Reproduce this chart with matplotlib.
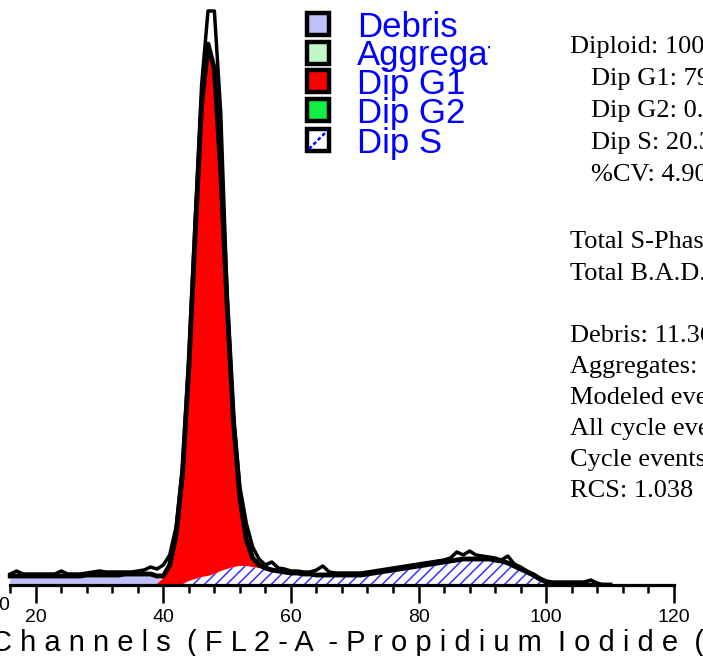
import matplotlib
matplotlib.use('Agg')
import matplotlib.pyplot as plt
from matplotlib.patches import Rectangle
import numpy as np

# ---------------- data ----------------
channels = list(range(16, 111))

data_counts = [11, 14, 11, 11, 11, 11, 11, 11, 14, 11,
               11, 11, 12, 13, 14, 13, 13, 13, 13, 13,
               14, 15, 18, 16, 20, 30, 58, 118, 228, 365,
               500, 574, 574, 472, 290, 168, 98, 62, 38, 26,
               20, 23, 17, 16, 14, 14, 13, 13, 15, 19,
               13, 12, 12, 12, 12, 12, 13, 14, 15, 16,
               17, 18, 19, 20, 21, 22, 23, 24, 25, 27,
               33, 30, 34, 30, 29, 28, 27, 25, 29, 21,
               18, 14, 11, 7, 4, 3, 3, 3, 3, 3,
               3, 5, 2, 0, 0]

debris = [9, 9, 9, 9, 9, 9, 9, 9, 9, 9,
          9, 9, 10, 10, 10, 10, 10, 10, 11, 11,
          11, 11, 11, 8, 2, 0, 0, 0, 0, 0,
          0, 0, 0, 0, 0, 0, 0, 0, 0, 0,
          0, 0, 0, 0, 0, 0, 0, 0, 0, 0,
          0, 0, 0, 0, 0, 0, 0, 0, 0, 0,
          0, 0, 0, 0, 0, 0, 0, 0, 0, 0,
          0, 0, 0, 0, 0, 0, 0, 0, 0, 0,
          0, 0, 0, 0, 0, 0, 0, 0, 0, 0,
          0, 0, 0, 0, 0]

dip_s = [0, 0, 0, 0, 0, 0, 0, 0, 0, 0,
         0, 0, 0, 0, 0, 0, 0, 0, 0, 0,
         0, 0, 0, 0, 0, 0, 0, 1, 4, 6,
         8, 9, 11, 14, 16, 18, 19, 19, 18, 17,
         16, 15, 14, 13, 12, 12, 11, 11, 10, 10,
         10, 10, 10, 10, 10, 10, 11, 12, 13, 14,
         15, 16, 17, 18, 19, 20, 21, 22, 23, 24,
         25, 26, 26, 26, 26, 26, 25, 24, 22, 19,
         16, 13, 10, 6, 3, 1, 0, 0, 0, 0,
         0, 0, 0, 0, 0]

dip_g1 = [0, 0, 0, 0, 0, 0, 0, 0, 0, 0,
          0, 0, 0, 0, 0, 0, 0, 0, 0, 0,
          0, 0, 0, 1, 7, 20, 50, 110, 214, 346,
          472, 532, 505, 400, 264, 146, 68, 27, 9, 3,
          1, 0, 0, 0, 0, 0, 0, 0, 0, 0,
          0, 0, 0, 0, 0, 0, 0, 0, 0, 0,
          0, 0, 0, 0, 0, 0, 0, 0, 0, 0,
          0, 0, 0, 0, 0, 0, 0, 0, 0, 0,
          0, 0, 0, 0, 0, 0, 0, 0, 0, 0,
          0, 0, 0, 0, 0]

xtick_major = [20, 40, 60, 80, 100, 120]
xtick_minor = [16, 24, 28, 32, 36, 44, 48, 52, 56, 64, 68, 72, 76,
               84, 88, 92, 96, 104, 108, 112, 116]
x_label = "C h a n n e l s  ( F L 2 - A  - P r o p i d i u m  I o d i d e  ("

legend_labels = ["Debris", "Aggregates", "Dip G1", "Dip G2", "Dip S"]
legend_colors = ["#c0c0f8", "#c0f8c8", "#ff0000", "#10f040", "#ffffff"]

stats_text = ["Diploid: 100.00 %", "Dip G1: 79.67 %", "Dip G2: 0.00 %",
              "Dip S: 20.33 %", "%CV: 4.90", "Total S-Phase: 20.33 %",
              "Total B.A.D.: 0.00 %", "Debris: 11.36 %", "Aggregates: 0.00 %",
              "Modeled events: 9814", "All cycle events: 8699",
              "Cycle events per channel: 170", "RCS: 1.038"]
stats_indent = [False, True, True, True, True, False, False,
                False, False, False, False, False, False]
stats_baseline = [53, 85, 117, 149, 181, 248, 280, 342, 373, 404, 435, 466, 497]

# ---------------- figure ----------------
W, H = 703, 656
plt.rcParams['hatch.linewidth'] = 1.1
fig = plt.figure(figsize=(W / 100, H / 100), dpi=100)
fig.patch.set_facecolor('white')

base_px = 585
ax = fig.add_axes([0, 1 - base_px / H, 1, base_px / H])
ax.set_xlim(14.40, 124.59)
ax.set_ylim(0, 585)
ax.patch.set_alpha(0)

ch = np.array(channels, dtype=float)
deb = np.array(debris, dtype=float)
s = np.array(dip_s, dtype=float)
g1 = np.array(dip_g1, dtype=float)
dat = np.array(data_counts, dtype=float)
fit = deb + s + g1

ax.fill_between(ch, 0, deb, facecolor='#c0c0f8', edgecolor='none', lw=0, zorder=1)
ax.fill_between(ch, 0, s, facecolor='white', edgecolor='#3333ff', hatch='///',
                lw=0, zorder=1)
ax.fill_between(ch, s, s + g1, where=(g1 > 0) | (np.roll(g1, 1) > 0) | (np.roll(g1, -1) > 0),
                facecolor='#ff0000', edgecolor='none', lw=0, zorder=2)
ax.plot(ch, fit, color='black', lw=3.5, zorder=3, solid_joinstyle='round')
ax.plot(ch, dat, color='black', lw=2.5, zorder=4, solid_joinstyle='round')

for sp in ['top', 'left', 'right']:
    ax.spines[sp].set_visible(False)
ax.spines['bottom'].set_bounds(16, 120)
ax.spines['bottom'].set_linewidth(2.3)
ax.spines['bottom'].set_zorder(5)
ax.set_yticks([])
ax.set_xticks(xtick_major)
ax.set_xticks(xtick_minor, minor=True)
ax.set_xticklabels([str(v) for v in xtick_major])
ax.tick_params(axis='x', which='major', direction='out', length=13, width=1.8,
               pad=4, labelsize=14)
ax.tick_params(axis='x', which='minor', direction='out', length=5.8, width=1.8)
for lab in ax.get_xticklabels():
    lab.set_family('Liberation Sans')

# stray "0" at the left edge
fig.text(-2 / W, 1 - 605 / H, "0", fontsize=14, family='Liberation Sans',
         ha='left', va='center')
# axis title (letter-spaced)
fig.text(-9 / W, 1 - 651 / H, x_label, fontsize=21, family='Liberation Sans',
         ha='left', va='baseline')

# ---------------- legend ----------------
lx0, lx1, ly1 = 300, 490, 170
lax = fig.add_axes([lx0 / W, 1 - ly1 / H, (lx1 - lx0) / W, ly1 / H])
lax.set_xlim(lx0, lx1)
lax.set_ylim(ly1, 0)
lax.axis('off')
box_top = [13, 42, 70, 99, 129]
text_base = [37, 65, 94, 123, 153]
for lbl, col, bt, tb in zip(legend_labels, legend_colors, box_top, text_base):
    lax.add_patch(Rectangle((307, bt), 22, 22, facecolor=col, edgecolor='black',
                            lw=3.2, zorder=2))
    lax.text(357, tb, lbl, fontsize=25, family='Liberation Sans', color='#0000ff',
             ha='left', va='baseline', clip_on=True, zorder=3)
lax.plot([309, 327], [149, 131], color='#0000ff', lw=1.8, ls=(0, (1.5, 1)), zorder=3)

# ---------------- statistics text ----------------
for txt, ind, yb in zip(stats_text, stats_indent, stats_baseline):
    x = 591 if ind else 570
    fig.text(x / W, 1 - yb / H, txt, fontsize=19, family='Liberation Serif',
             ha='left', va='baseline', color='black')

fig.savefig('out.png', dpi=100, facecolor='white')
